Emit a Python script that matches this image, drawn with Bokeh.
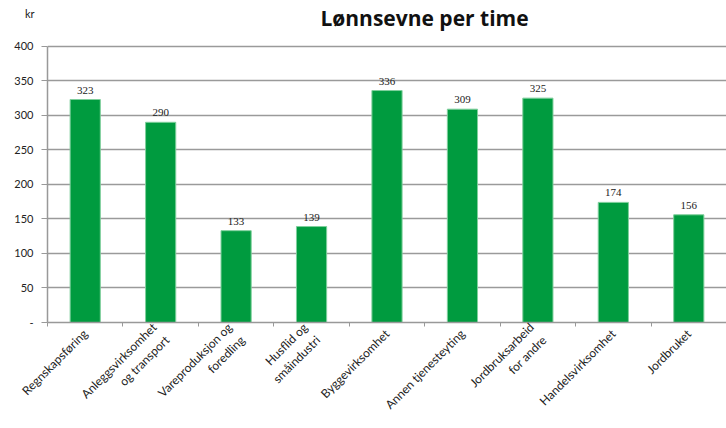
import math
from bokeh.plotting import figure
from bokeh.models import Range1d, FixedTicker, Label, ColumnDataSource, LabelSet, LinearAxis
from bokeh.embed import file_html
from bokeh.resources import INLINE

categories = ["Regnskapsføring", "Anleggsvirksomhet\nog transport", "Vareproduksjon og\nforedling",
              "Husflid og\nsmåindustri", "Byggevirksomhet", "Annen tjenesteyting",
              "Jordbruksarbeid\nfor andre", "Handelsvirksomhet", "Jordbruket"]
values = [323, 290, 133, 139, 336, 309, 325, 174, 156]
y_ticks = [0, 50, 100, 150, 200, 250, 300, 350, 400]
y_tick_labels = ["-", "50", "100", "150", "200", "250", "300", "350", "400"]
title_text = "Lønnsevne per time"
unit_text = "kr"

GREEN = "#009B3F"
FONT = "Lato"
TXT = "#222222"
GREY = "#999999"

W, H = 726, 428
LEFT, BOTTOM = 47, 105
PLOT_TOP = 46            # pixel row of the 400 line
frame_h = H - BOTTOM
y_max = y_ticks[-1]
y_end = y_max * frame_h / (frame_h - PLOT_TOP)   # leaves room above 400 for the title

n = len(categories)
xs = [i + 0.5 for i in range(n)]
src = ColumnDataSource(dict(x=xs, top=values, lab=[str(v) for v in values]))

p = figure(width=W, height=H, output_backend="svg", toolbar_location=None,
           x_range=Range1d(0, n), y_range=Range1d(0, y_end),
           min_border_left=LEFT, min_border_right=0, min_border_top=0, min_border_bottom=BOTTOM)
p.outline_line_color = None
p.background_fill_color = "white"

p.vbar(x="x", top="top", width=0.4, bottom=0, source=src, fill_color=GREEN,
       line_color="#7fcf9c", line_width=1)

p.add_layout(LabelSet(x="x", y="top", text="lab", source=src, text_align="center",
                      text_baseline="bottom", y_offset=6, text_font_size="11px",
                      text_color=TXT, text_font=FONT))

# title inside the (extended) frame
p.add_layout(Label(x=377, y=frame_h - 18, x_units="screen", y_units="screen", text=title_text,
                   text_font="Open Sans", text_font_size="21px", text_font_style="bold",
                   text_color="#111111", text_align="center", text_baseline="alphabetic"))

# x axis
xa = p.xaxis[0]
xa.ticker = FixedTicker(ticks=xs, minor_ticks=list(range(n + 1)))
xa.major_label_overrides = {x: c for x, c in zip(xs, categories)}
xa.major_tick_line_color = None
xa.major_tick_out = 0
xa.major_tick_in = 0
xa.minor_tick_line_color = GREY
xa.minor_tick_out = 4
xa.minor_tick_in = 0
xa.axis_line_color = GREY
xa.axis_line_width = 1.5
xa.major_label_orientation = math.pi / 4
xa.major_label_text_font = FONT
xa.major_label_text_font_size = "12px"
xa.major_label_text_color = TXT
xa.major_label_standoff = 5
p.xgrid.grid_line_color = None

# y axis
ya = p.yaxis[0]
ya.ticker = FixedTicker(ticks=y_ticks)
ya.bounds = (0, y_max)
ya.major_label_overrides = {t: l for t, l in zip(y_ticks, y_tick_labels)}
ya.major_tick_out = 6
ya.major_tick_in = 0
ya.major_tick_line_color = GREY
ya.minor_tick_line_color = None
ya.axis_line_color = GREY
ya.axis_line_width = 1.5
ya.major_label_text_font = FONT
ya.major_label_text_font_size = "11px"
ya.major_label_text_color = TXT
ya.major_label_standoff = 8
p.ygrid.ticker = FixedTicker(ticks=y_ticks)
p.ygrid.grid_line_color = "#9a9a9a"
p.ygrid.grid_line_width = 1.5

# unit label "kr" as a second, line-less axis on the left
kr_val = (frame_h - 13) * y_end / frame_h
ka = LinearAxis(ticker=FixedTicker(ticks=[kr_val]), major_label_overrides={kr_val: unit_text},
                axis_line_color=None, major_tick_line_color=None, minor_tick_line_color=None,
                major_tick_out=0, major_tick_in=0, major_label_standoff=-23,
                major_label_text_font=FONT, major_label_text_font_size="11px",
                major_label_text_color=TXT)
p.add_layout(ka, "left")

open("out.html", "w").write(file_html(p, INLINE))
